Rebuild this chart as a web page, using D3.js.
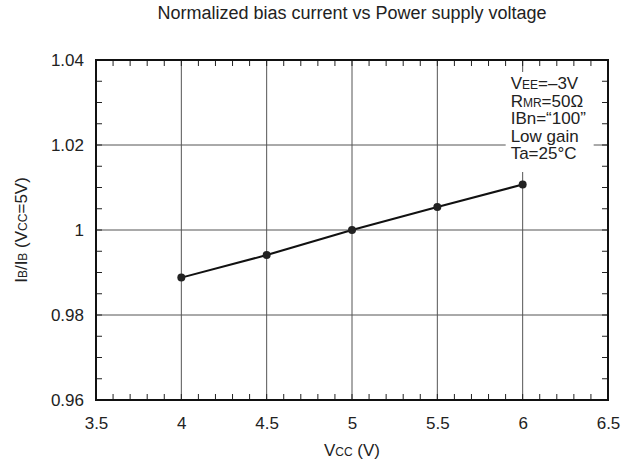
<!DOCTYPE html>
<html>
<head>
<meta charset="utf-8">
<script src="https://cdn.jsdelivr.net/npm/d3@7"></script>
<style>
  body { margin: 0; background: #fff; }
  svg text { font-family: "Liberation Sans", Arial, sans-serif; fill: #222; }
</style>
</head>
<body>
<div id="chart"></div>
<script>
// data
var vcc = [4, 4.5, 5, 5.5, 6];
var ratio = [0.9888, 0.9941, 1.0, 1.0054, 1.0107];
var xTicks = [3.5, 4, 4.5, 5, 5.5, 6, 6.5];
var yTicks = [0.96, 0.98, 1, 1.02, 1.04];
var yTickLabels = ["0.96", "0.98", "1", "1.02", "1.04"];

var W = 635, H = 469;
var margin = {top: 60, right: 27, bottom: 69, left: 96},
  width = W - margin.left - margin.right,
  height = H - margin.top - margin.bottom;

var svg = d3.select("#chart")
.append("svg")
  .attr("width", W)
  .attr("height", H);

var g = svg.append("g")
  .attr("transform", "translate(" + margin.left + "," + margin.top + ")");

var x = d3.scaleLinear().domain([3.5, 6.5]).range([0, width]);
var y = d3.scaleLinear().domain([0.96, 1.04]).range([height, 0]);

// grid lines
g.selectAll(".vgrid")
  .data(xTicks.slice(1, -1))
  .enter().append("line")
    .attr("x1", function(d) { return x(d) })
    .attr("x2", function(d) { return x(d) })
    .attr("y1", 0).attr("y2", height)
    .attr("stroke", "#555").attr("stroke-width", 1);
g.selectAll(".hgrid")
  .data(yTicks.slice(1, -1))
  .enter().append("line")
    .attr("y1", function(d) { return y(d) })
    .attr("y2", function(d) { return y(d) })
    .attr("x1", 0).attr("x2", width)
    .attr("stroke", "#555").attr("stroke-width", 1);

// minor ticks (inside, all four sides)
var xMinor = d3.range(35, 66).map(function(d) { return d / 10 });
var yMinor = d3.range(192, 209).map(function(d) { return d / 200 });
var tl = 6;
xMinor.forEach(function(v) {
  g.append("line").attr("x1", x(v)).attr("x2", x(v)).attr("y1", height).attr("y2", height - tl)
    .attr("stroke", "#222").attr("stroke-width", 1);
  g.append("line").attr("x1", x(v)).attr("x2", x(v)).attr("y1", 0).attr("y2", tl)
    .attr("stroke", "#222").attr("stroke-width", 1);
});
yMinor.forEach(function(v) {
  g.append("line").attr("y1", y(v)).attr("y2", y(v)).attr("x1", 0).attr("x2", tl)
    .attr("stroke", "#222").attr("stroke-width", 1);
  g.append("line").attr("y1", y(v)).attr("y2", y(v)).attr("x1", width).attr("x2", width - tl)
    .attr("stroke", "#222").attr("stroke-width", 1);
});

// annotation box (white background covering grid)
g.append("rect")
  .attr("x", x(6) - 17).attr("y", 12)
  .attr("width", 88).attr("height", 100)
  .attr("fill", "#fff");

// axes with labels only
var xAxis = g.append("g")
  .attr("transform", "translate(0," + height + ")")
  .call(d3.axisBottom(x).tickValues(xTicks).tickSize(0).tickPadding(17).tickFormat(d3.format("")));
var yAxis = g.append("g")
  .call(d3.axisLeft(y).tickValues(yTicks).tickSize(0).tickPadding(12)
    .tickFormat(function(d, i) { return yTickLabels[i] }));
[xAxis, yAxis].forEach(function(a) {
  a.select(".domain").remove();
  a.selectAll("text").style("font-size", "17px").attr("fill", "#222")
    .style("font-family", "'Liberation Sans', Arial, sans-serif");
});

// frame
g.append("rect")
  .attr("width", width).attr("height", height)
  .attr("fill", "none").attr("stroke", "#111").attr("stroke-width", 2);

// data line and points
var line = d3.line()
  .x(function(d, i) { return x(vcc[i]) })
  .y(function(d) { return y(d) });
g.append("path")
  .datum(ratio)
  .attr("d", line)
  .attr("fill", "none").attr("stroke", "#111").attr("stroke-width", 2);
g.selectAll(".pt")
  .data(ratio)
  .enter().append("circle")
    .attr("cx", function(d, i) { return x(vcc[i]) })
    .attr("cy", function(d) { return y(d) })
    .attr("r", 4)
    .attr("fill", "#222");

// annotation text
var notes = [
  [["V", 17], ["EE", 12], ["=\u20133V", 17]],
  [["R", 17], ["MR", 12], ["=50\u03A9", 17]],
  [["IBn=\u201C100\u201D", 17]],
  [["Low gain", 17]],
  [["Ta=25\u00B0C", 17]]
];
notes.forEach(function(parts, i) {
  var t = g.append("text")
    .attr("x", x(6) - 12)
    .attr("y", 29 + i * 17.5)
    .style("font-size", "17px");
  parts.forEach(function(p) {
    t.append("tspan").text(p[0]).style("font-size", p[1] + "px");
  });
});

// title
svg.append("text")
  .attr("x", 352).attr("y", 19)
  .attr("text-anchor", "middle")
  .style("font-size", "18px")
  .text("Normalized bias current vs Power supply voltage");

// x label
var xl = svg.append("text")
  .attr("x", 352).attr("y", 456)
  .attr("text-anchor", "middle")
  .style("font-size", "17px");
xl.append("tspan").text("V");
xl.append("tspan").text("CC").style("font-size", "12px");
xl.append("tspan").text(" (V)");

// y label
var yl = svg.append("text")
  .attr("transform", "translate(27," + (margin.top + height / 2) + ") rotate(-90)")
  .attr("text-anchor", "middle")
  .style("font-size", "17px");
yl.append("tspan").text("I");
yl.append("tspan").text("B").style("font-size", "12px");
yl.append("tspan").text("/I");
yl.append("tspan").text("B").style("font-size", "12px");
yl.append("tspan").text(" (V");
yl.append("tspan").text("CC").style("font-size", "12px");
yl.append("tspan").text("=5V)");
</script>
</body>
</html>
